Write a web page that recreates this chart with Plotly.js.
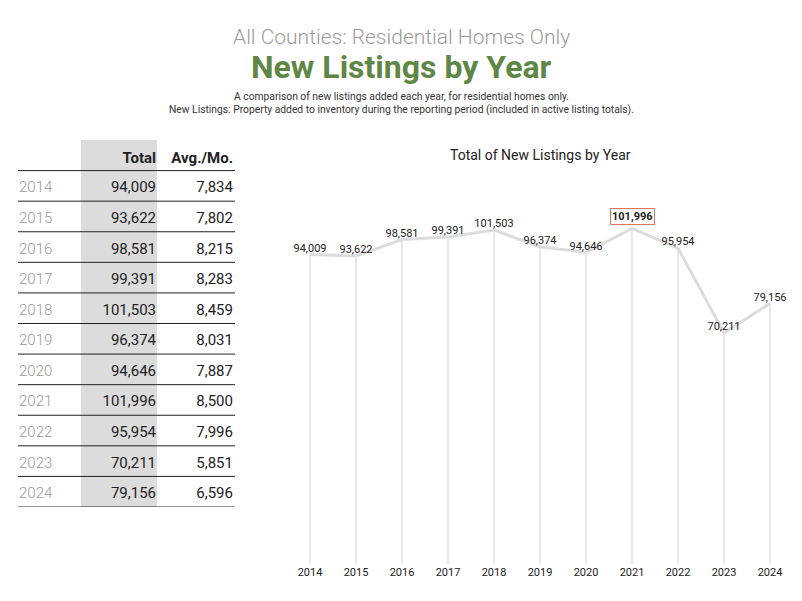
<!DOCTYPE html>
<html>
<head>
<meta charset="utf-8">
<script src="https://cdn.plot.ly/plotly-3.0.1.min.js"></script>
<style>
  html, body { margin: 0; padding: 0; background: #fff; }
  #chart { width: 802px; height: 601px; }
</style>
</head>
<body>
<div id="chart"></div>
<script>
// data
const years = [2014, 2015, 2016, 2017, 2018, 2019, 2020, 2021, 2022, 2023, 2024];
const totals = [94009, 93622, 98581, 99391, 101503, 96374, 94646, 101996, 95954, 70211, 79156];
const avgPerMonth = [7834, 7802, 8215, 8283, 8459, 8031, 7887, 8500, 7996, 5851, 6596];
const tableHeaders = ['Total', 'Avg./Mo.'];

const FONT = 'Roboto, "Open Sans", sans-serif';
const fmt = v => v.toLocaleString('en-US');

const maxIdx = totals.indexOf(Math.max(...totals));
const rows = years.map((_, i) => i);
const TEXT_NUDGE = 0.09; // plotly sets 'middle' text a touch high

// paper coords helper (margins are zero, so paper == page)
const py = px => 1 - px / 601;
const pxX = px => px / 802;

const traces = [
  // line chart
  {
    type: 'scatter', mode: 'lines+text',
    x: years, y: totals,
    text: totals.map((v, i) => i === maxIdx ? '' : fmt(v)),
    textposition: 'top center',
    textfont: { family: FONT, size: 11, color: '#222' },
    line: { color: '#dcdcdc', width: 3 },
    error_y: {
      type: 'data', symmetric: false,
      array: totals.map(() => 0), arrayminus: totals,
      color: '#e2e2e2', thickness: 1.5, width: 0
    },
    cliponaxis: false,
    hoverinfo: 'skip', xaxis: 'x', yaxis: 'y'
  },
  // table: year column
  {
    type: 'scatter', mode: 'text',
    x: years.map(() => 19), y: rows.map(r => r + TEXT_NUDGE),
    text: years.map(String),
    textposition: 'middle right',
    textfont: { family: FONT, size: 15, color: '#9a9a9a', weight: 300 },
    hoverinfo: 'skip', xaxis: 'x2', yaxis: 'y2'
  },
  // table: totals
  {
    type: 'scatter', mode: 'text',
    x: years.map(() => 156), y: rows.map(r => r + TEXT_NUDGE),
    text: totals.map(fmt),
    textposition: 'middle left',
    textfont: { family: FONT, size: 15, color: '#222' },
    hoverinfo: 'skip', xaxis: 'x2', yaxis: 'y2'
  },
  // table: avg per month
  {
    type: 'scatter', mode: 'text',
    x: years.map(() => 233), y: rows.map(r => r + TEXT_NUDGE),
    text: avgPerMonth.map(fmt),
    textposition: 'middle left',
    textfont: { family: FONT, size: 15, color: '#222' },
    hoverinfo: 'skip', xaxis: 'x2', yaxis: 'y2'
  },
  // table header
  {
    type: 'scatter', mode: 'text',
    x: [156, 233], y: [-0.95 + TEXT_NUDGE, -0.95 + TEXT_NUDGE],
    text: tableHeaders,
    textposition: 'middle left',
    textfont: { family: FONT, size: 15, color: '#222', weight: 'bold' },
    hoverinfo: 'skip', xaxis: 'x2', yaxis: 'y2'
  }
];

const shapes = [
  // gray total column
  { type: 'rect', xref: 'x2', yref: 'y2', x0: 81, x1: 157, y0: -1.5, y1: 10.5,
    fillcolor: '#dcdcdc', line: { width: 0 }, layer: 'below' }
];
// row separators
[-0.5, ...rows.map(i => i + 0.5)].forEach(y => {
  shapes.push({ type: 'line', xref: 'x2', yref: 'y2', x0: 18, x1: 235, y0: y, y1: y,
    line: { color: '#222', width: 1 } });
});

function paperText(text, x, y, font) {
  return { text, xref: 'paper', yref: 'paper', x: pxX(x), y: py(y),
    xanchor: 'center', yanchor: 'middle', showarrow: false, font };
}

const annotations = [
  paperText('All Counties: Residential Homes Only', 401, 37,
    { family: FONT, size: 21, color: '#9b9b9b', weight: 300 }),
  paperText('New Listings by Year', 401, 67,
    { family: FONT, size: 32, color: '#5e8745', weight: 'bold' }),
  paperText('A comparison of new listings added each year, for residential homes only.', 401, 97,
    { family: FONT, size: 10.3, color: '#333' }),
  paperText('New Listings: Property added to inventory during the reporting period (included in active listing totals).', 401, 109,
    { family: FONT, size: 10.3, color: '#333' }),
  paperText('Total of New Listings by Year', 540, 155,
    { family: FONT, size: 14, color: '#222' }),
  // highlighted max value
  { text: '<b>' + fmt(totals[maxIdx]) + '</b>', xref: 'x', yref: 'y',
    x: years[maxIdx], y: totals[maxIdx], yshift: 12, showarrow: false,
    bgcolor: '#fff', bordercolor: '#d9775f', borderwidth: 1, borderpad: 1,
    font: { family: FONT, size: 11, color: '#222' } }
];

const layout = {
  width: 802, height: 601,
  margin: { t: 0, r: 0, b: 0, l: 0 },
  paper_bgcolor: '#fff', plot_bgcolor: 'rgba(0,0,0,0)',
  showlegend: false,
  font: { family: FONT },
  xaxis: {
    domain: [pxX(287), pxX(793)], range: [2013.5, 2024.5],
    tickvals: years, ticktext: years.map(String),
    showgrid: false, zeroline: false, showline: false, ticks: '',
    tickfont: { family: FONT, size: 11, color: '#222' }, anchor: 'y'
  },
  yaxis: {
    domain: [py(564), py(202)], range: [0, 110000],
    showgrid: false, zeroline: false, showline: false, showticklabels: false, anchor: 'x'
  },
  xaxis2: {
    domain: [pxX(0), pxX(250)], range: [0, 250],
    visible: false, anchor: 'y2'
  },
  yaxis2: {
    domain: [py(507), py(140)], range: [10.5, -1.5],
    visible: false, anchor: 'x2'
  },
  shapes: shapes,
  annotations: annotations
};

Plotly.newPlot('chart', traces, layout, { staticPlot: true, displayModeBar: false });
</script>
</body>
</html>
